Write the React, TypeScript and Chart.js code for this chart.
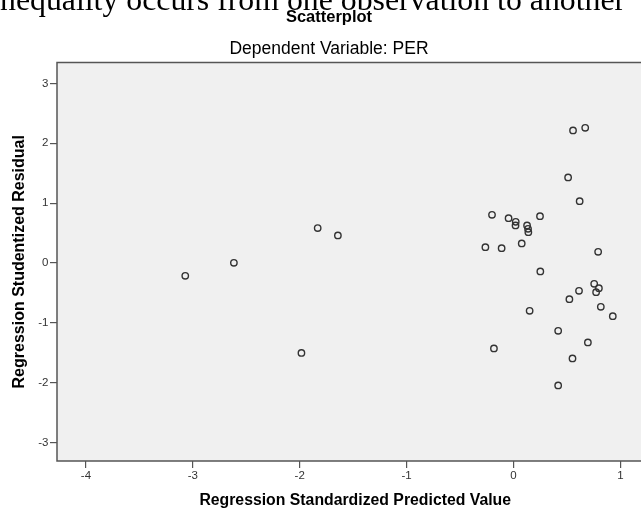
import React, { useEffect, useRef } from "react";
import { Chart, registerables } from "chart.js";

Chart.register(...registerables);

const xValues = [
  -3.071, -2.616, -1.832, -1.643, -1.984,
  0.557, 0.671, 0.511, 0.619, -0.201, -0.046, 0.021, 0.019, 0.127, 0.136, 0.139, 0.248, -0.263, -0.111, 0.077, 0.792,
  0.251, 0.755, 0.799, 0.773, 0.613, 0.523, 0.817, 0.929, 0.151, 0.418, 0.696, -0.183, 0.552, 0.418,
];
const yValues = [
  -0.216, 0.002, 0.582, 0.46, -1.503,
  2.215, 2.258, 1.429, 1.033, 0.804, 0.749, 0.687, 0.627, 0.627, 0.57, 0.515, 0.782, 0.264, 0.247, 0.326, 0.186,
  -0.142, -0.349, -0.421, -0.488, -0.466, -0.605, -0.734, -0.889, -0.801, -1.135, -1.329, -1.429, -1.596, -2.047,
];
const xTicks = [-4, -3, -2, -1, 0, 1];
const yTicks = [-3, -2, -1, 0, 1, 2, 3];

const FONT = "'Liberation Sans', Arial, sans-serif";

const plotFrame = {
  id: "plotFrame",
  beforeDraw(chart: any) {
    const { ctx, chartArea: a } = chart;
    ctx.save();
    ctx.fillStyle = "#f0f0f0";
    ctx.fillRect(a.left, a.top, a.right - a.left, a.bottom - a.top);
    ctx.restore();
  },
  beforeDatasetsDraw(chart: any) {
    const { ctx, chartArea: a } = chart;
    ctx.save();
    ctx.strokeStyle = "#555";
    ctx.lineWidth = 1.5;
    ctx.strokeRect(a.left, a.top, a.right - a.left, a.bottom - a.top);
    ctx.restore();
  },
};

export default function App() {
  const ref = useRef<HTMLCanvasElement | null>(null);
  useEffect(() => {
    if (!ref.current) return;
    const data = xValues.map((x, i) => ({ x, y: yValues[i] }));
    const chart = new Chart(ref.current, {
      type: "scatter",
      data: {
        datasets: [
          {
            data,
            pointRadius: 3.2,
            pointBorderWidth: 1.4,
            pointBorderColor: "#333",
            pointBackgroundColor: "rgba(0,0,0,0)",
            pointHoverRadius: 3.2,
          },
        ],
      },
      options: {
        animation: false,
        responsive: false,
        events: [],
        layout: { padding: 0 },
        plugins: {
          legend: { display: false },
          tooltip: { enabled: false },
          title: {
            display: true,
            text: "Scatterplot",
            color: "#000",
            font: { family: FONT, size: 16.5, weight: "bold", lineHeight: 1.2 },
            padding: { top: 7.4, bottom: 0 },
          },
          subtitle: {
            display: true,
            text: "Dependent Variable: PER",
            color: "#000",
            font: { family: FONT, size: 17.5, weight: "normal", lineHeight: 1.2 },
            padding: { top: 11.3, bottom: 3 },
          },
        },
        scales: {
          x: {
            type: "linear",
            min: -4.271,
            max: 1.309,
            afterBuildTicks: (s: any) => {
              s.ticks = xTicks.map((v) => ({ value: v }));
            },
            afterFit: (s: any) => {
              s.height = 49;
            },
            border: { display: false },
            grid: {
              drawOnChartArea: false,
              drawTicks: true,
              tickLength: 7,
              color: "#555",
              lineWidth: 1.2,
            },
            ticks: {
              color: "#333",
              font: { family: FONT, size: 11.5 },
              padding: 1,
              maxRotation: 0,
              autoSkip: false,
            },
            title: {
              display: true,
              text: "Regression Standardized Predicted Value",
              color: "#000",
              font: { family: FONT, size: 15.8, weight: "bold", lineHeight: 1.1 },
              padding: { top: 0, bottom: 0.2 },
            },
          },
          y: {
            type: "linear",
            min: -3.31,
            max: 3.35,
            afterBuildTicks: (s: any) => {
              s.ticks = yTicks.map((v) => ({ value: v }));
            },
            afterFit: (s: any) => {
              s.width = 57;
            },
            border: { display: false },
            grid: {
              drawOnChartArea: false,
              drawTicks: true,
              tickLength: 7,
              color: "#555",
              lineWidth: 1.2,
            },
            ticks: {
              color: "#333",
              font: { family: FONT, size: 11.5 },
              padding: 1.5,
              autoSkip: false,
            },
            title: {
              display: true,
              text: "Regression Studentized Residual",
              color: "#000",
              font: { family: FONT, size: 16, weight: "bold", lineHeight: 1.2 },
              padding: { top: 10.4, bottom: 0 },
            },
          },
        },
      },
      plugins: [plotFrame],
    });
    return () => chart.destroy();
  }, []);

  return (
    <div
      style={{
        position: "fixed",
        left: 0,
        top: 0,
        width: 641,
        height: 510,
        overflow: "hidden",
        background: "#fff",
      }}
    >
      <canvas
        ref={ref}
        width={658}
        height={510}
        style={{ position: "absolute", left: 0, top: 0, width: 658, height: 510 }}
      />
      <div
        style={{
          position: "absolute",
          left: -8.85,
          top: -16.2,
          fontFamily: "'Liberation Serif', 'Times New Roman', serif",
          fontSize: "31.8px",
          lineHeight: "31.8px",
          whiteSpace: "nowrap",
          color: "#000",
        }}
      >
        inequality occurs from one observation to another
      </div>
    </div>
  );
}
